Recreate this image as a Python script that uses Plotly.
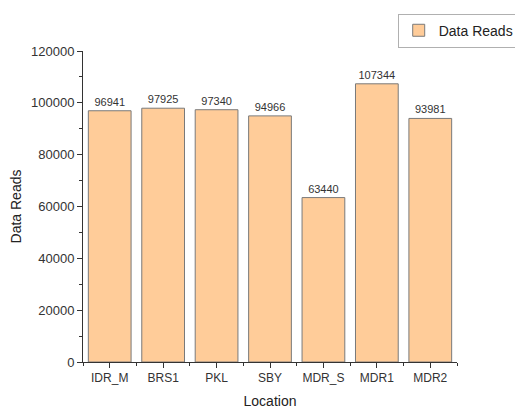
import plotly.graph_objects as go

locations = ["IDR_M", "BRS1", "PKL", "SBY", "MDR_S", "MDR1", "MDR2"]
data_reads = [96941, 97925, 97340, 94966, 63440, 107344, 93981]
y_ticks = [0, 20000, 40000, 60000, 80000, 100000, 120000]

idx = list(range(len(locations)))

fig = go.Figure()
fig.add_trace(go.Bar(
    x=idx, y=data_reads, name="Data Reads",
    marker=dict(color="#FFCC99", line=dict(color="#7a7a7a", width=1)),
    text=[str(v) for v in data_reads], textposition="outside",
    textfont=dict(size=11, color="#333333"), cliponaxis=False,
    width=0.8,
))

# page body adds an 8px offset, so the figure is sized a bit smaller
fig.update_layout(
    width=515, height=404,
    plot_bgcolor="white", paper_bgcolor="white",
    font=dict(family="Liberation Sans, Arial, sans-serif", size=12, color="#333333"),
    margin=dict(l=75, r=66, t=43, b=50, autoexpand=False),
    showlegend=True,
    legend=dict(x=1.165, y=1.12, xanchor="right", yanchor="top",
                bordercolor="#b0b0b0", borderwidth=1,
                font=dict(size=14, color="#222222"), bgcolor="white"),
)

fig.update_xaxes(
    range=[-0.5, len(locations) - 0.5],
    tickmode="array", tickvals=idx, ticktext=locations,
    showline=True, linecolor="#333333", linewidth=1,
    ticks="outside", ticklen=5, tickcolor="#333333",
    minor=dict(tickmode="array", tickvals=[i + 0.5 for i in idx[:-1]] + [-0.5, len(idx) - 0.5],
               ticks="outside", ticklen=3, tickcolor="#333333"),
    showgrid=False, zeroline=False,
    title=dict(text="Location", font=dict(size=14, color="#222222"), standoff=11),
    tickfont=dict(size=12, color="#333333"),
)

fig.update_yaxes(
    range=[0, 120000], tickmode="array", tickvals=y_ticks,
    ticktext=[str(v) for v in y_ticks],
    showline=True, linecolor="#333333", linewidth=1,
    ticks="outside", ticklen=5, tickcolor="#333333",
    minor=dict(dtick=10000, tick0=0, ticks="outside", ticklen=3, tickcolor="#333333"),
    showgrid=False, zeroline=False,
    title=dict(text="Data Reads", font=dict(size=14, color="#222222"), standoff=6),
    tickfont=dict(size=13, color="#333333"),
)

fig.write_html("out.html")
